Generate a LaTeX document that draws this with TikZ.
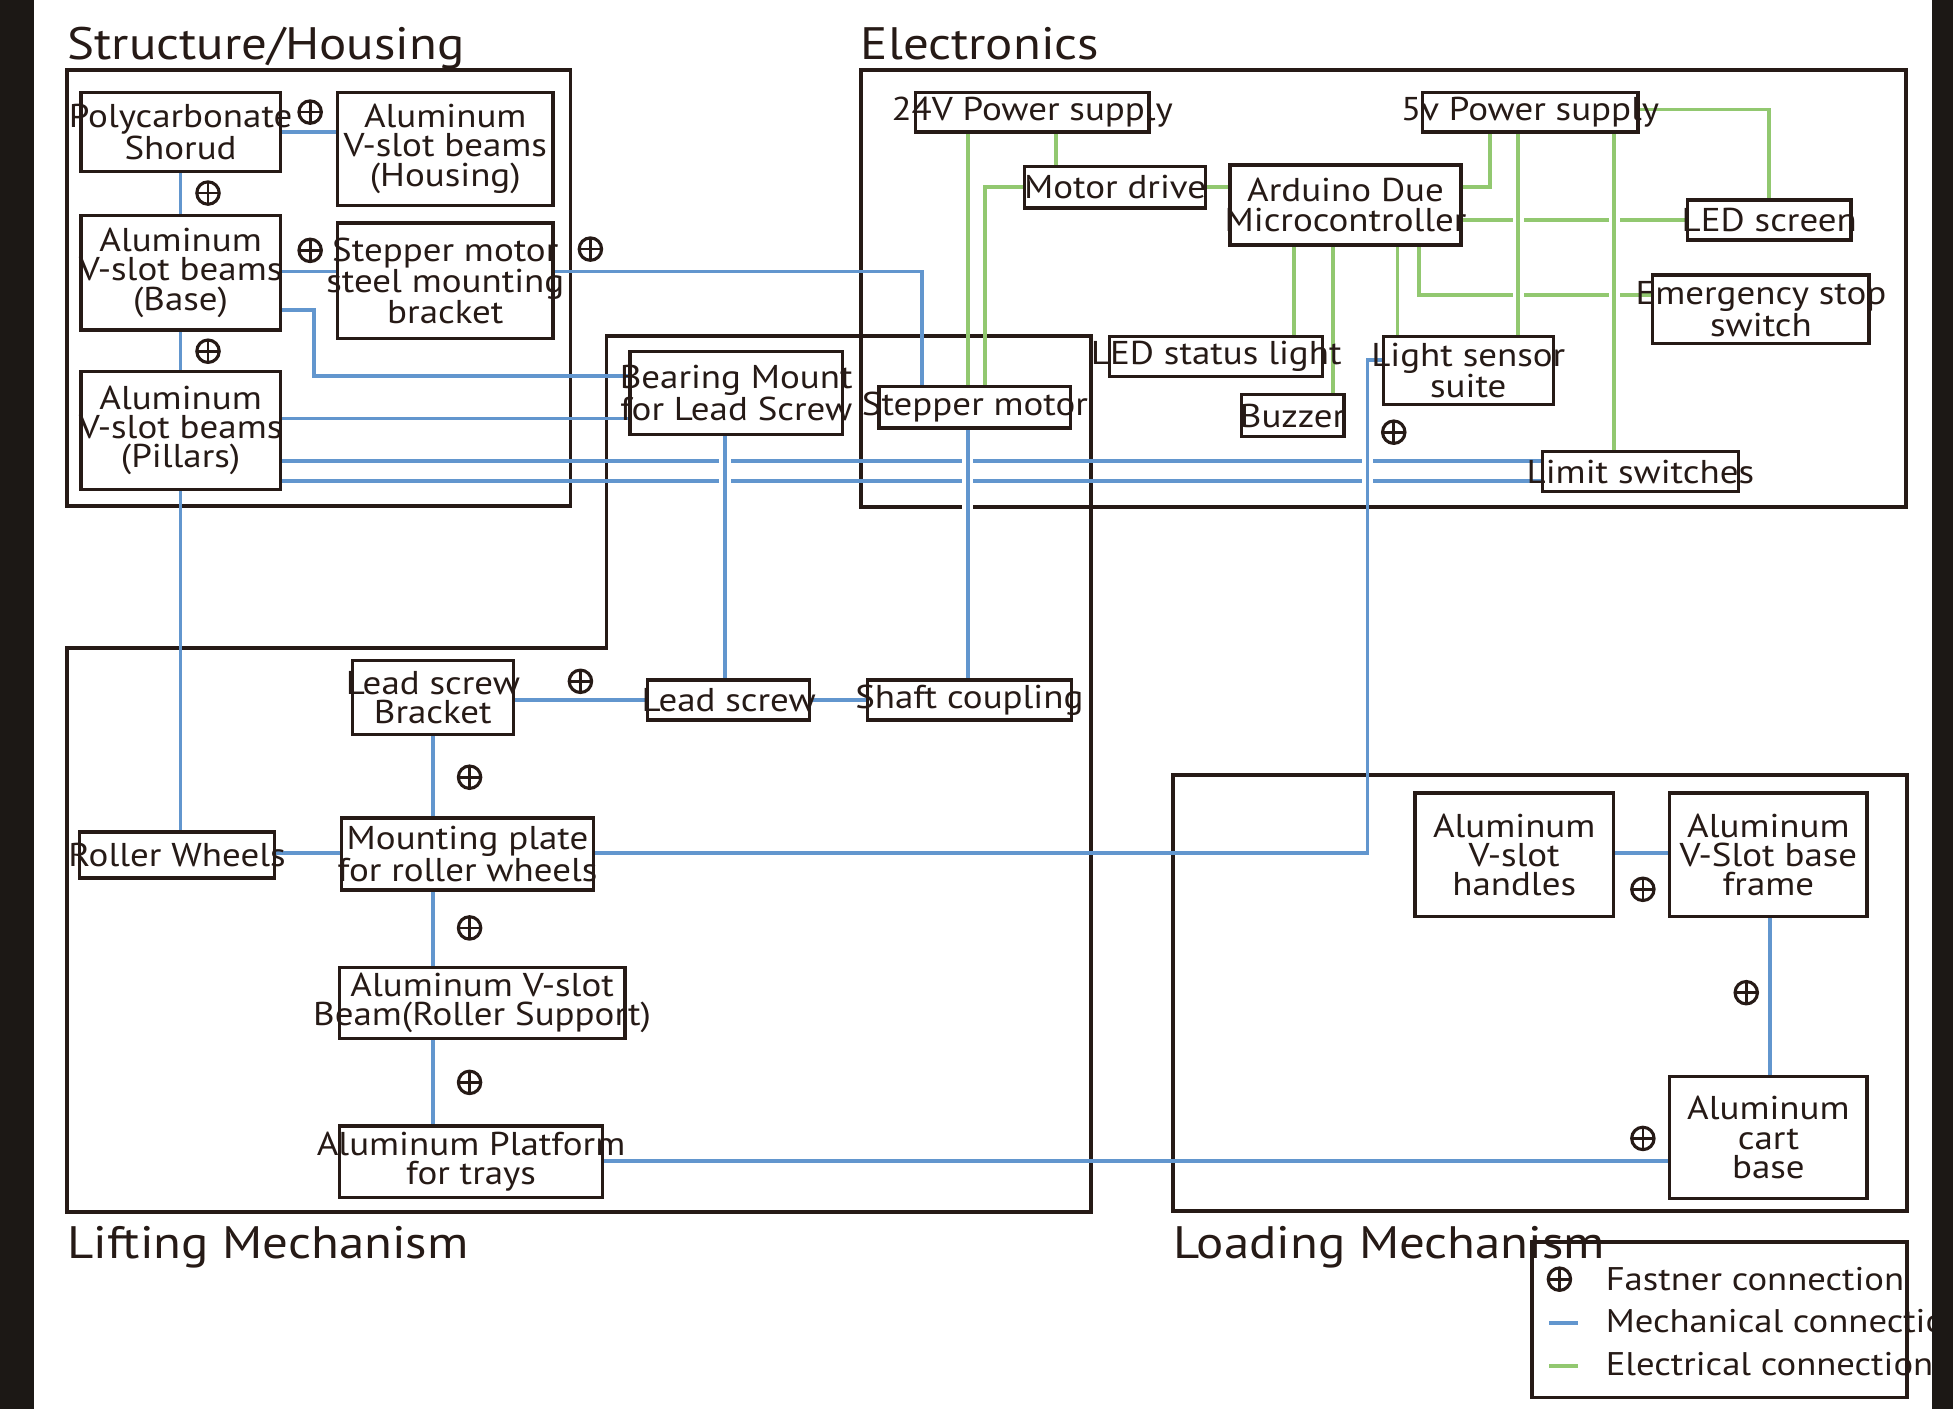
\documentclass[tikz,border=0pt]{standalone}
\usepackage{fontspec}
\setmainfont[FakeStretch=1.12]{PT Sans}
\usetikzlibrary{calc}

\definecolor{boxc}{RGB}{38,26,22}
\definecolor{mechc}{RGB}{98,150,206}
\definecolor{elecc}{RGB}{146,200,112}
\definecolor{stripc}{RGB}{28,24,21}

% zero width line, so the text never widens a box
\newcommand\zw[1]{\makebox[0pt]{#1}}
\newcommand\partfont{\fontsize{26.5}{23.5}\selectfont}
\newcommand\titlefont{\fontsize{36.5}{40}\selectfont}
\newcommand\legfont{\fontsize{26.3}{30}\selectfont}

\pgfdeclarelayer{sections}
\pgfdeclarelayer{wires}
\pgfsetlayers{sections,wires,main}

\tikzset{
	part/.style={draw=boxc, line width=2.6pt, fill=white, inner sep=0pt, align=center, text=boxc, font=\partfont},
	dims/.style 2 args={minimum width=#1pt, minimum height=#2pt},
	sect/.style={draw=boxc, line width=3pt},
	mech/.style={mechc, line width=3pt},
	elec/.style={elecc, line width=3pt},
	hop/.style={preaction={draw=white, line width=9pt}},
	fast/.style={circle, draw=boxc, line width=2.5pt, minimum size=18pt, inner sep=0pt,
		path picture={\draw[boxc, line width=2.2pt] (path picture bounding box.north) -- (path picture bounding box.south) (path picture bounding box.west) -- (path picture bounding box.east);}},
	title/.style={anchor=base west, inner sep=0pt, font=\titlefont, text=boxc},
	legtxt/.style={anchor=base west, inner sep=0pt, font=\legfont, text=boxc},
}

\begin{document}
\begin{tikzpicture}[x=1pt,y=-1pt]
	\useasboundingbox (0,0) rectangle (1568,1131);

	% titles
	\node[title] (tstruct) at (54,48) {Structure/Housing};
	\node[title] (telec) at (691,48) {Electronics};
	\node[title] (tlift) at (54,1010) {Lifting Mechanism};
	\node[title] (tload) at (942,1010) {Loading Mechanism};

	% structure / housing
	\node[part, dims={160}{64}] (poly) at (145,106) {\zw{Polycarbonate}\\\zw{Shorud}};
	\node[part, dims={173}{91}] (hous) at (357.5,119.5) {\zw{Aluminum}\\\zw{V-slot beams}\\\zw{(Housing)}};
	\node[part, dims={160}{92}] (base) at (145,219) {\zw{Aluminum}\\\zw{V-slot beams}\\\zw{(Base)}};
	\node[part, dims={173}{93}] (brkt) at (357.5,225.5) {\zw{Stepper motor}\\\zw{steel mounting}\\\zw{bracket}};
	\node[part, dims={160}{95}] (pill) at (145,345.5) {\zw{Aluminum}\\\zw{V-slot beams}\\\zw{(Pillars)}};

	% electronics
	\node[part, dims={187.5}{32}] (p24) at (828.75,90) {\zw{24V Power supply}};
	\node[part, dims={173}{32}] (p5) at (1228.5,90) {\zw{5v Power supply}};
	\node[part, dims={145.4}{33.2}] (mdrv) at (895.3,150.4) {\zw{Motor drive}};
	\node[part, dims={185.4}{64.2}] (ardu) at (1080.3,164.6) {\zw{Arduino Due}\\\zw{Microcontroller}};
	\node[part, dims={131}{32}] (lcd) at (1420.5,176.65) {\zw{LED screen}};
	\node[part, dims={173.6}{54.8}] (estop) at (1413.8,248.2) {\zw{Emergency stop}\\\zw{switch}};
	\node[part, dims={171}{32}] (led) at (976.5,286) {\zw{LED status light}};
	\node[part, dims={82.5}{33.6}] (buzz) at (1037.75,333.8) {\zw{Buzzer}};
	\node[part, dims={136.4}{55}] (lsen) at (1178.8,297.5) {\zw{Light sensor}\\\zw{suite}};
	\node[part, dims={157}{32.2}] (limit) at (1317,378.7) {\zw{Limit switches}};
	\node[part, dims={153.9}{33.2}] (step) at (782.75,327.1) {\zw{Stepper motor}};

	% lifting mechanism
	\node[part, dims={170.6}{66.6}] (bear) at (591.1,315.7) {\zw{Bearing Mount}\\\zw{for Lead Screw}};
	\node[part, dims={129}{59}] (lsb) at (347.5,560) {\zw{Lead screw}\\\zw{Bracket}};
	\node[part, dims={130}{32}] (lscr) at (585,562) {\zw{Lead screw}};
	\node[part, dims={163.5}{32}] (shaft) at (778.25,562) {\zw{Shaft coupling}};
	\node[part, dims={156.7}{37}] (roll) at (142.15,686.5) {\zw{Roller Wheels}};
	\node[part, dims={202.7}{57.8}] (mplt) at (375.35,685.7) {\zw{Mounting plate}\\\zw{for roller wheels}};
	\node[part, dims={229.4}{57}] (vbeam) at (387.1,805.15) {\zw{Aluminum V-slot}\\\zw{Beam(Roller Support)}};
	\node[part, dims={211.6}{57.5}] (plat) at (378.2,932.75) {\zw{Aluminum Platform}\\\zw{for trays}};

	% loading mechanism
	\node[part, dims={159.4}{99}] (hand) at (1215.7,686.25) {\zw{Aluminum}\\\zw{V-slot}\\\zw{handles}};
	\node[part, dims={158.4}{99}] (frame) at (1419.8,686.25) {\zw{Aluminum}\\\zw{V-Slot base}\\\zw{frame}};
	\node[part, dims={158.4}{98}] (cart) at (1419.8,913.4) {\zw{Aluminum}\\\zw{cart}\\\zw{base}};

	% fastener marks
	\foreach \p [count=\i] in {(249,90),(167,155),(249,201),(167,282),(474,200),(1119,347),(466,547),(377,624),(377,745),(377,869),(1319,714),(1402,797),(1319,914)}
		\node[fast] (fast\i) at \p {};

	% group outlines
	\begin{pgfonlayer}{sections}
		\draw[sect] (54,56) rectangle (458,406);
		\draw[sect] (691,56) rectangle (1530,407);
		\draw[sect] (54,520) -- (487,520) -- (487,270) -- (876,270) -- (876,973) -- (54,973) -- cycle;
		\draw[sect] (942,622) rectangle (1531,972);
		\draw[sect] (1230,997) rectangle (1531,1122);
	\end{pgfonlayer}

	\begin{pgfonlayer}{wires}
		% mechanical
		\draw[mech] (poly.east) -- (poly.east -| hous.west);
		\draw[mech] (poly.south) -- (base.north);
		\draw[mech] (base.south) -- (pill.north);
		\draw[mech] (base.east |- 0,218) -- (brkt.west |- 0,218);
		\coordinate (bend1) at (740,218);
		\draw[mech] (brkt.east |- bend1) -- (bend1) -- (bend1 |- step.north);
		\draw[mech] (base.east |- 0,249) -| (252,302) -- (bear.west |- 0,302);
		\draw[mech] (pill.east |- 0,336) -- (bear.west |- 0,336);
		\draw[mech] (pill.east |- 0,370) -- (limit.west |- 0,370);
		\draw[mech] (pill.east |- 0,386) -- (limit.west |- 0,386);
		\draw[mech] (pill.south) -- (pill.south |- roll.north);
		\draw[mech] (lsb.east |- lscr.west) -- (lscr.west);
		\draw[mech] (lscr.east) -- (shaft.west);
		\draw[mech] (lsb.south) -- (lsb.south |- mplt.north);
		\draw[mech] (lsb.south |- mplt.south) -- (lsb.south |- vbeam.north);
		\draw[mech] (lsb.south |- vbeam.south) -- (lsb.south |- plat.north);
		\draw[mech] (roll.east |- 0,685) -- (mplt.west |- 0,685);
		\coordinate (bend2) at (1098,400);
		\draw[mech] (mplt.east |- 0,685) -| (bend2);
		\draw[mech, hop] (bend2) -- (1098,289) -- (lsen.west |- 0,289);
		\draw[mech, hop] (bear.south -| 582,0) -- (lscr.north -| 582,0);
		\draw[mech, hop] (step.south -| 777,0) -- (shaft.north -| 777,0);
		\draw[mech] (hand.east |- 0,685) -- (frame.west |- 0,685);
		\draw[mech] (frame.south -| 1421,0) -- (cart.north -| 1421,0);
		\draw[mech] (plat.east |- 0,932) -- (cart.west |- 0,932);
		% electrical
		\draw[elec] (p24.south -| 777,0) -- (step.north -| 777,0);
		\draw[elec] (p24.south -| 848,0) -- (mdrv.north -| 848,0);
		\draw[elec] (mdrv.west) -| (step.north -| 791,0);
		\draw[elec] (mdrv.east) -- (mdrv.east -| ardu.west);
		\draw[elec] (ardu.east |- 0,150) -| (p5.south -| 1196,0);
		\draw[elec] (p5.east |- 0,88) -| (lcd.north);
		\draw[elec] (ardu.east |- lcd.west) -- (lcd.west);
		\draw[elec] (ardu.south -| 1139,0) |- (estop.west |- 0,237);
		\draw[elec] (ardu.south -| 1039,0) -- (led.north -| 1039,0);
		\draw[elec] (ardu.south -| 1070,0) -- (buzz.north -| 1070,0);
		\draw[elec] (ardu.south -| 1122,0) -- (lsen.north -| 1122,0);
		\draw[elec, hop] (p5.south -| 1219,0) -- (lsen.north -| 1219,0);
		\draw[elec, hop] (p5.south -| 1296,0) -- (limit.north -| 1296,0);
	\end{pgfonlayer}

	% legend
	\node[fast] (lgfast) at (1252,1027) {};
	\node[legtxt] (lgfastt) at (1289,1036) {Fastner connection};
	\coordinate (lgm1) at (1244,1062);
	\coordinate (lgm2) at (1267,1062);
	\draw[mech] (lgm1) -- (lgm2);
	\node[legtxt] (lgmecht) at (1289,1070) {Mechanical connection};
	\coordinate (lge1) at (1244,1097);
	\coordinate (lge2) at (1267,1097);
	\draw[elec] (lge1) -- (lge2);
	\node[legtxt] (lgelect) at (1289,1104) {Electrical connection};

	% dark side strips
	\fill[stripc] (0,0) rectangle (27,1131);
	\fill[stripc] (1551,0) rectangle (1568,1131);
\end{tikzpicture}
\end{document}
